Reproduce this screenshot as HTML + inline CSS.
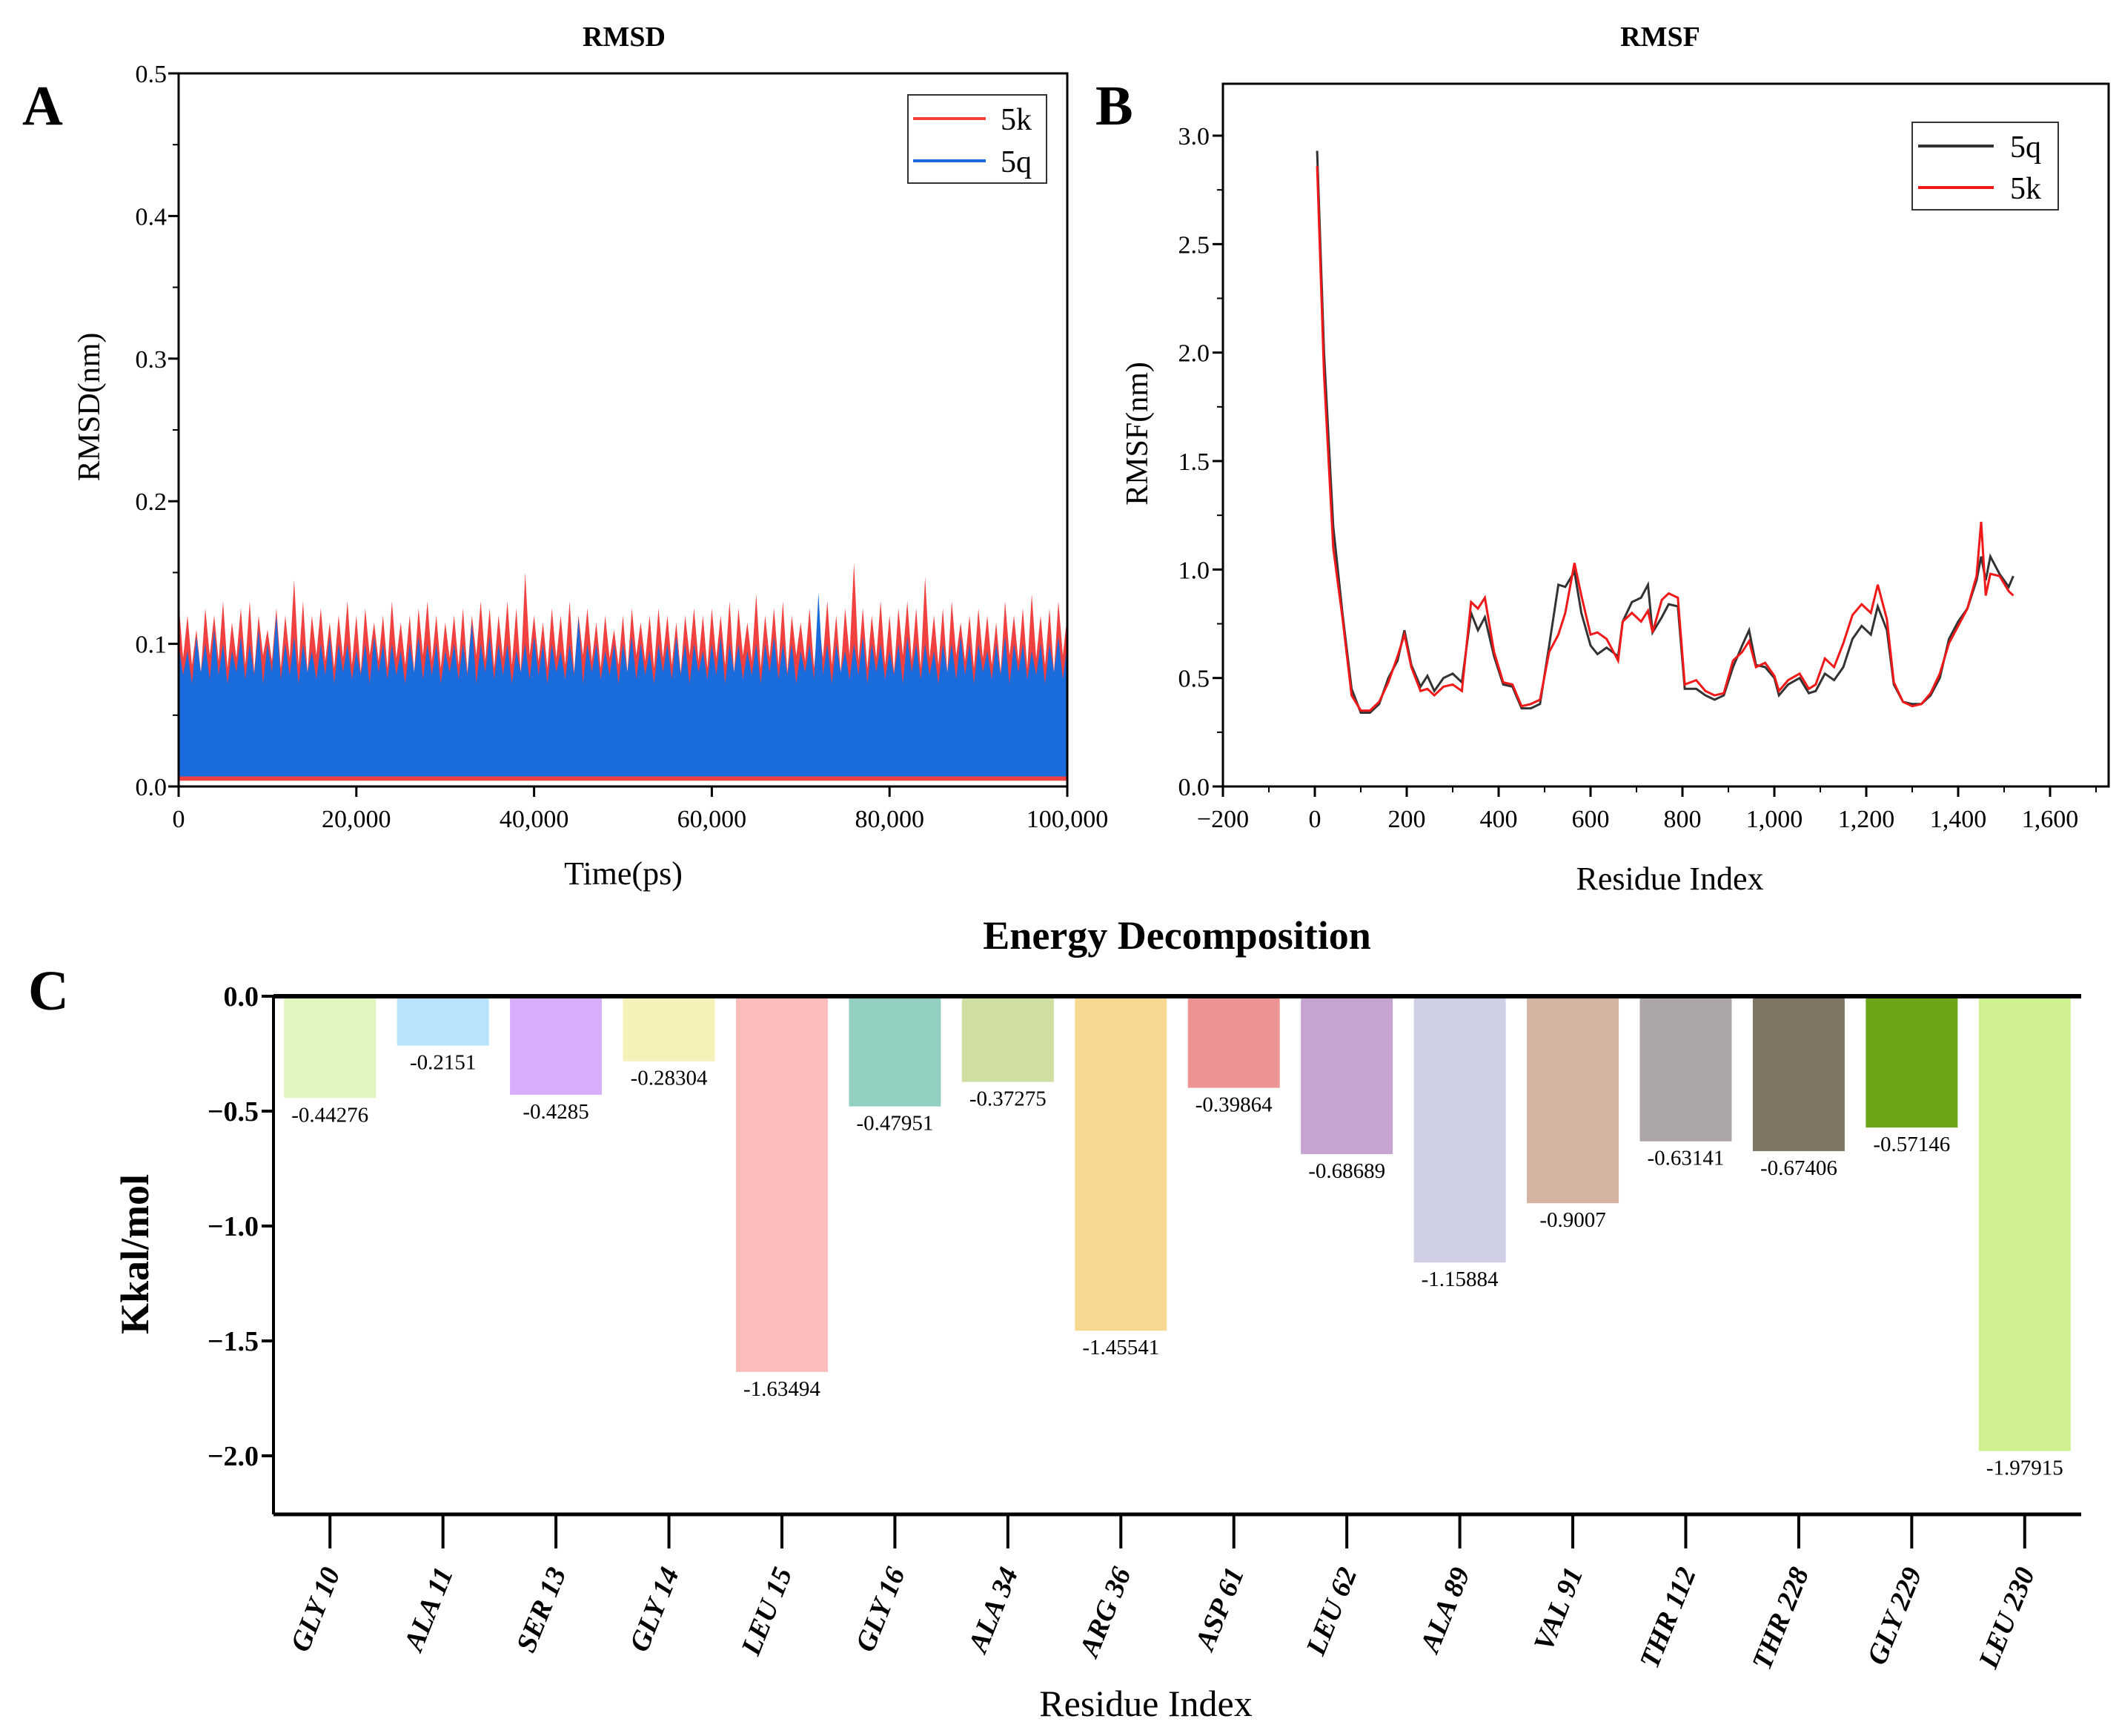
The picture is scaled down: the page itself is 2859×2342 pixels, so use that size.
<!DOCTYPE html>
<html><head><meta charset="utf-8"><style>
html,body{margin:0;padding:0;background:#fff}
svg{display:block;font-family:"Liberation Serif",serif}
</style></head><body>
<svg id="fig" width="2859" height="2342" viewBox="0 0 2859 2342" xmlns="http://www.w3.org/2000/svg">
<g id="pA"></g>
<g id="pB"></g>
<g id="pC"></g>
</svg>
<script>
// ---- Panel A data (RMSD) ----
const rmsdTicksY = [0.0, 0.1, 0.2, 0.3, 0.4, 0.5];
const rmsdTicksX = [0, 20000, 40000, 60000, 80000, 100000];
const rmsdTickLabelsX = ["0", "20,000", "40,000", "60,000", "80,000", "100,000"];
const rmsdTimeStep = [1000];
const k5Peak = [0.13,0.12,0.11,0.125,0.12,0.13,0.115,0.125,0.13,0.12,0.11,0.125,0.12,0.145,0.13,0.12,0.125,0.115,0.12,0.13,0.12,0.125,0.115,0.12,0.13,0.115,0.12,0.125,0.13,0.12,0.115,0.12,0.125,0.12,0.13,0.125,0.12,0.13,0.125,0.15,0.12,0.115,0.125,0.12,0.13,0.12,0.125,0.115,0.12,0.11,0.12,0.125,0.115,0.12,0.125,0.12,0.115,0.12,0.125,0.12,0.125,0.12,0.13,0.125,0.115,0.135,0.12,0.125,0.13,0.12,0.115,0.125,0.12,0.13,0.12,0.125,0.157,0.125,0.12,0.13,0.12,0.125,0.13,0.125,0.147,0.12,0.125,0.13,0.115,0.12,0.125,0.12,0.115,0.13,0.12,0.125,0.135,0.12,0.125,0.13,0.12];
const k5Trough = [0.09,0.085,0.08,0.092,0.088,0.083];
const k5Low = [0.004];
const q5Peak = [0.1,0.095,0.105,0.1,0.11,0.1,0.095,0.105,0.1,0.11,0.1,0.12,0.1,0.105,0.1,0.095,0.1,0.105,0.1,0.1,0.095,0.1,0.105,0.1,0.1,0.095,0.1,0.105,0.1,0.1,0.095,0.1,0.1,0.115,0.1,0.105,0.1,0.1,0.095,0.1,0.105,0.1,0.1,0.095,0.1,0.118,0.1,0.1,0.095,0.1,0.1,0.105,0.1,0.095,0.1,0.1,0.105,0.1,0.1,0.095,0.1,0.105,0.1,0.1,0.095,0.1,0.1,0.105,0.1,0.1,0.095,0.1,0.136,0.1,0.1,0.095,0.1,0.105,0.1,0.1,0.095,0.1,0.105,0.1,0.1,0.095,0.1,0.1,0.105,0.1,0.1,0.095,0.1,0.105,0.1,0.1,0.095,0.1,0.1,0.105,0.1];
const q5Trough = [0.078,0.072,0.08,0.075];
const q5Low = [0.007];

// ---- Panel B data (RMSF) ----
const rmsfResidue = [5,20,40,60,80,100,120,140,160,180,195,210,230,245,260,280,300,320,340,355,370,390,410,430,450,470,490,510,530,545,565,580,600,615,635,660,670,690,710,725,735,755,770,790,805,830,850,870,890,910,930,945,960,980,1000,1010,1030,1055,1075,1090,1110,1130,1150,1170,1190,1210,1225,1245,1260,1280,1300,1320,1340,1360,1380,1400,1420,1440,1450,1460,1470,1490,1510,1520];
const rmsf5q = [2.93,2.0,1.2,0.8,0.45,0.34,0.34,0.38,0.5,0.58,0.72,0.56,0.46,0.51,0.44,0.5,0.52,0.48,0.8,0.72,0.78,0.6,0.47,0.46,0.36,0.36,0.38,0.65,0.93,0.92,0.99,0.8,0.65,0.61,0.64,0.6,0.76,0.85,0.87,0.93,0.71,0.78,0.84,0.83,0.45,0.45,0.42,0.4,0.42,0.55,0.65,0.72,0.56,0.55,0.5,0.42,0.47,0.5,0.43,0.44,0.52,0.49,0.55,0.68,0.74,0.7,0.83,0.72,0.47,0.39,0.38,0.38,0.42,0.5,0.68,0.76,0.82,0.95,1.06,0.95,1.06,0.98,0.92,0.97];
const rmsf5k = [2.86,1.9,1.1,0.78,0.42,0.35,0.35,0.39,0.48,0.6,0.7,0.55,0.44,0.45,0.42,0.46,0.47,0.44,0.85,0.82,0.87,0.62,0.48,0.47,0.37,0.38,0.4,0.62,0.7,0.8,1.03,0.88,0.7,0.71,0.68,0.58,0.76,0.8,0.76,0.81,0.71,0.86,0.89,0.87,0.47,0.49,0.44,0.42,0.43,0.58,0.62,0.67,0.55,0.57,0.51,0.44,0.49,0.52,0.45,0.47,0.59,0.55,0.66,0.79,0.84,0.8,0.93,0.77,0.48,0.39,0.37,0.38,0.43,0.52,0.66,0.74,0.82,0.97,1.22,0.88,0.98,0.97,0.9,0.88];
const rmsfTicksY = [0.0,0.5,1.0,1.5,2.0,2.5,3.0];
const rmsfTicksX = [-200,0,200,400,600,800,1000,1200,1400,1600];
const rmsfTickLabelsX = ["\u2212200","0","200","400","600","800","1,000","1,200","1,400","1,600"];

// ---- Panel C data (Energy) ----
const energyResidues = ["GLY  10","ALA  11","SER  13","GLY  14","LEU  15","GLY  16","ALA  34","ARG  36","ASP  61","LEU  62","ALA  89","VAL  91","THR 112","THR 228","GLY 229","LEU 230"];
const energyValues = [-0.44276,-0.2151,-0.4285,-0.28304,-1.63494,-0.47951,-0.37275,-1.45541,-0.39864,-0.68689,-1.15884,-0.9007,-0.63141,-0.67406,-0.57146,-1.97915];
const energyLabels = ["-0.44276","-0.2151","-0.4285","-0.28304","-1.63494","-0.47951","-0.37275","-1.45541","-0.39864","-0.68689","-1.15884","-0.9007","-0.63141","-0.67406","-0.57146","-1.97915"];
const energyTicksY = [0.0,-0.5,-1.0,-1.5,-2.0];
const energyColors = ["#e0f5c0","#b9e3fb","#d6aefa","#f6f0b9","#fbbcbc","#92cfc0","#cfdfa2","#f7d891","#eb9493","#c5a5cf","#cfd0e6","#d5b4a4","#aca6a6","#7f7564","#6aa617","#cef08f"];

const NS="http://www.w3.org/2000/svg";
function mk(parent,tag,attrs,text){const e=document.createElementNS(NS,tag);for(const k in attrs)e.setAttribute(k,attrs[k]);if(text!==undefined)e.textContent=text;parent.appendChild(e);return e;}

// ===== Panel A =====
(function(){
const g=document.getElementById('pA');
const L=241,R=1440,T=99,B=1061;
const xA=t=>L+t/100000*(R-L), yA=v=>B-v/0.5*(B-T);
let t;
t=mk(g,'text',{x:842,y:62,'font-size':38,'font-weight':'bold','text-anchor':'middle'},'RMSD');

t=mk(g,'text',{x:30,y:168,'font-size':76,'font-weight':'bold'},'A');

let top=[],n=k5Peak.length,step=rmsdTimeStep[0];
for(let i=0;i<n;i++){top.push(xA(i*step)+','+yA(k5Peak[i]));if(i<n-1)top.push(xA(i*step+step/2)+','+yA(k5Trough[i%k5Trough.length]));}
let pts=top.concat([xA((n-1)*step)+','+yA(k5Low[0]),xA(0)+','+yA(k5Low[0])]);
let p=mk(g,'polygon',{points:pts.join(' '),fill:'#f04040'});

top=[];n=q5Peak.length;
for(let i=0;i<n;i++){top.push(xA(i*step)+','+yA(q5Peak[i]));if(i<n-1)top.push(xA(i*step+step/2)+','+yA(q5Trough[i%q5Trough.length]));}
pts=top.concat([xA((n-1)*step)+','+yA(q5Low[0]),xA(0)+','+yA(q5Low[0])]);
p=mk(g,'polygon',{points:pts.join(' '),fill:'#1a6bdb'});

let box=mk(g,'rect',{x:L,y:T,width:R-L,height:B-T,fill:'none',stroke:'#000','stroke-width':3});

rmsdTicksY.forEach(v=>{mk(g,'line',{x1:L-14,x2:L,y1:yA(v),y2:yA(v),stroke:'#000','stroke-width':3});
 let e=mk(g,'text',{x:L-16,y:yA(v)+12,'font-size':34,'text-anchor':'end'},v.toFixed(1));
 });
for(let v=0.05;v<0.5;v+=0.1)mk(g,'line',{x1:L-8,x2:L,y1:yA(v),y2:yA(v),stroke:'#000','stroke-width':2});
rmsdTicksX.forEach((v,i)=>{mk(g,'line',{x1:xA(v),x2:xA(v),y1:B,y2:B+14,stroke:'#000','stroke-width':3});
 let e=mk(g,'text',{x:xA(v),y:B+55,'font-size':34,'text-anchor':'middle'},rmsdTickLabelsX[i]);
 });
t=mk(g,'text',{x:841,y:1193,'font-size':44,'text-anchor':'middle'},'Time(ps)');

t=mk(g,'text',{x:0,y:0,'font-size':42,'text-anchor':'middle',transform:'translate(134,549) rotate(-90)'},'RMSD(nm)');

let lg=mk(g,'g',{});
mk(lg,'rect',{x:1225,y:128,width:187,height:119,fill:'#fff',stroke:'#333','stroke-width':2});
mk(lg,'line',{x1:1232,x2:1330,y1:160,y2:160,stroke:'#f04040','stroke-width':4});
mk(lg,'line',{x1:1232,x2:1330,y1:217,y2:217,stroke:'#1a6bdb','stroke-width':4});
t=mk(lg,'text',{x:1350,y:175,'font-size':42},'5k');
t=mk(lg,'text',{x:1350,y:232,'font-size':42},'5q');
})();

// ===== Panel B =====
(function(){
const g=document.getElementById('pB');
const L=1650,R=2845,T=113,B=1061;
const xB=r=>L+(r+200)/200*124, yB=v=>B-v*(B-183)/3;
let t;
t=mk(g,'text',{x:2240,y:62,'font-size':38,'font-weight':'bold','text-anchor':'middle'},'RMSF');

t=mk(g,'text',{x:1478,y:168,'font-size':76,'font-weight':'bold'},'B');

let box=mk(g,'rect',{x:L,y:T,width:R-L,height:B-T,fill:'none',stroke:'#000','stroke-width':3});

rmsfTicksY.forEach(v=>{mk(g,'line',{x1:L-14,x2:L,y1:yB(v),y2:yB(v),stroke:'#000','stroke-width':3});
 let e=mk(g,'text',{x:L-18,y:yB(v)+12,'font-size':34,'text-anchor':'end'},v.toFixed(1));
 });
for(let v=0.25;v<3.2;v+=0.5)mk(g,'line',{x1:L-8,x2:L,y1:yB(v),y2:yB(v),stroke:'#000','stroke-width':2});
rmsfTicksX.forEach((v,i)=>{mk(g,'line',{x1:xB(v),x2:xB(v),y1:B,y2:B+14,stroke:'#000','stroke-width':3});
 mk(g,'line',{x1:xB(v+100),x2:xB(v+100),y1:B,y2:B+8,stroke:'#000','stroke-width':2});
 let e=mk(g,'text',{x:xB(v),y:B+55,'font-size':34,'text-anchor':'middle'},rmsfTickLabelsX[i]);
 });
let p=mk(g,'polyline',{points:rmsfResidue.map((r,i)=>xB(r)+','+yB(rmsf5q[i])).join(' '),fill:'none',stroke:'#333','stroke-width':3});

p=mk(g,'polyline',{points:rmsfResidue.map((r,i)=>xB(r)+','+yB(rmsf5k[i])).join(' '),fill:'none',stroke:'#f01818','stroke-width':3});

t=mk(g,'text',{x:2253,y:1200,'font-size':44,'text-anchor':'middle'},'Residue Index');

t=mk(g,'text',{x:0,y:0,'font-size':42,'text-anchor':'middle',transform:'translate(1548,585) rotate(-90)'},'RMSF(nm)');

let lg=mk(g,'g',{});
mk(lg,'rect',{x:2580,y:165,width:197,height:118,fill:'#fff',stroke:'#333','stroke-width':2});
mk(lg,'line',{x1:2588,x2:2690,y1:197,y2:197,stroke:'#333','stroke-width':4});
mk(lg,'line',{x1:2588,x2:2690,y1:253,y2:253,stroke:'#f01818','stroke-width':4});
t=mk(lg,'text',{x:2712,y:212,'font-size':42},'5q');
t=mk(lg,'text',{x:2712,y:268,'font-size':42},'5k');
})();

// ===== Panel C =====
(function(){
const g=document.getElementById('pC');
const L=369,R=2808,B=2043;
const band=(R-L)/energyResidues.length;
const xC=i=>L+band*(i+0.5), yC=v=>1344-v*310;
let t;
t=mk(g,'text',{x:1588,y:1280,'font-size':54,'font-weight':'bold','text-anchor':'middle'},'Energy Decomposition');

t=mk(g,'text',{x:38,y:1362,'font-size':76,'font-weight':'bold'},'C');

energyValues.forEach((v,i)=>{
 let r=mk(g,'rect',{x:xC(i)-62,y:yC(0),width:124,height:yC(v)-yC(0),fill:energyColors[i]});
 
 
 let e=mk(g,'text',{x:xC(i),y:yC(v)+32,'font-size':29,'text-anchor':'middle'},energyLabels[i]);
 
});
mk(g,'line',{x1:L,x2:R,y1:yC(0),y2:yC(0),stroke:'#000','stroke-width':6});
mk(g,'line',{x1:L,x2:R,y1:B,y2:B,stroke:'#000','stroke-width':5});
mk(g,'line',{x1:L,x2:L,y1:yC(0),y2:B,stroke:'#000','stroke-width':4});
energyTicksY.forEach(v=>{mk(g,'line',{x1:L-16,x2:L,y1:yC(v),y2:yC(v),stroke:'#000','stroke-width':4});
 let e=mk(g,'text',{x:L-20,y:yC(v)+13,'font-size':38,'font-weight':'bold','text-anchor':'end'},(v===0?'0.0':'\u2212'+(-v).toFixed(1)));
 });
energyResidues.forEach((c,i)=>{mk(g,'line',{x1:xC(i),x2:xC(i),y1:B,y2:B+46,stroke:'#000','stroke-width':4});
 let e=mk(g,'text',{x:0,y:0,'font-size':38,'font-weight':'bold','font-style':'italic','text-anchor':'end','xml:space':'preserve',transform:'translate('+(xC(i)+14)+','+(B+78)+') rotate(-68)'},c);
 });
t=mk(g,'text',{x:1546,y:2315,'font-size':50,'text-anchor':'middle'},'Residue Index');

t=mk(g,'text',{x:0,y:0,'font-size':54,'font-weight':'bold','text-anchor':'middle',transform:'translate(200,1692) rotate(-90)'},'Kkal/mol');

})();
</script>
</body></html>
